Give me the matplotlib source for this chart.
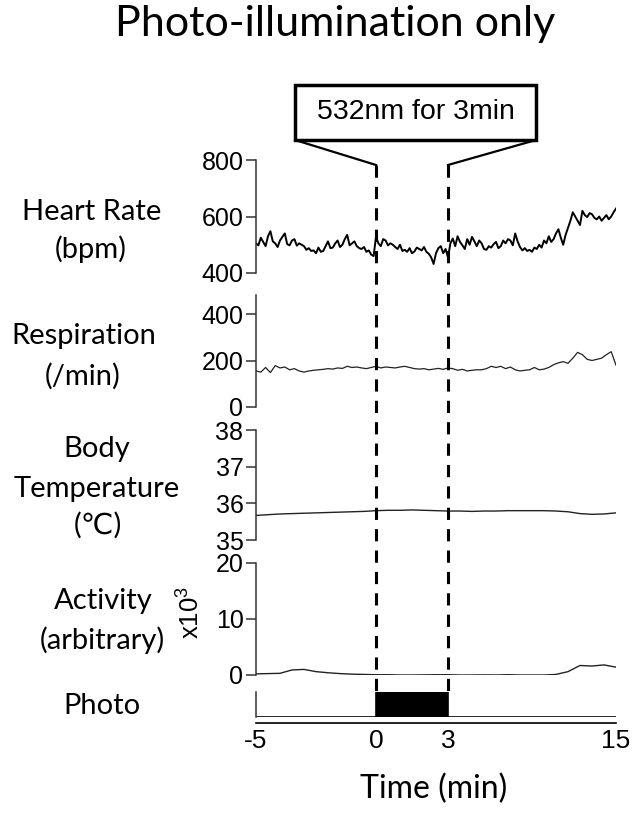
import numpy as np
import matplotlib
matplotlib.use("Agg")
import matplotlib.pyplot as plt
from matplotlib.patches import Rectangle

plt.rcParams['font.family'] = ['Liberation Sans', 'DejaVu Sans']
plt.rcParams['mathtext.default'] = 'regular'

W, H = 633, 815

# ---- data ----
# heart rate, bpm, sampled every 0.1 min from -5 to 10
heart_rate = [505, 498, 525, 510, 495, 530, 548, 512, 505, 492,
              515, 528, 540, 502, 498, 515, 520, 497, 505, 500,
              495, 482, 488, 478, 480, 470, 490, 475, 478, 495,
              512, 488, 490, 505, 515, 492, 500, 520, 535, 498,
              505, 512, 495, 488, 485, 492, 475, 480, 465, 460,
              528, 505, 495, 520, 515, 498, 505, 500, 492, 485,
              500, 478, 482, 475, 488, 470, 476, 490, 485, 480,
              492, 475, 468, 455, 432, 470, 488, 495, 470, 485,
              455, 505, 522, 495, 530, 510, 498, 485, 520, 500,
              528, 512, 495, 515, 505, 485, 482, 495, 490, 502,
              510, 488, 495, 515, 505, 520, 515, 498, 540, 512,
              492, 480, 488, 478, 482, 475, 490, 485, 500, 490,
              515, 505, 530, 510, 520, 540, 555, 525, 500, 535,
              560, 585, 615, 600, 585, 570, 620, 605, 598, 612,
              608, 595, 590, 600, 585, 595, 605, 590, 600, 615,
              628]
# respiration, /min, every 0.2 min
respiration = [155, 150, 170, 148, 178, 168, 172, 160, 165, 155,
               150, 155, 158, 160, 162, 165, 163, 168, 166, 175,
               170, 172, 168, 165, 170, 175, 168, 172, 170, 168,
               172, 175, 170, 165, 163, 165, 160, 163, 166, 162,
               168, 165, 158, 162, 155, 158, 160, 160, 165, 175,
               170, 175, 165, 172, 160, 155, 158, 160, 170, 160,
               163, 170, 182, 190, 195, 188, 210, 235, 225, 205,
               200, 205, 210, 225, 238, 180]
# body temperature, deg C, every 0.5 min
body_temp = [35.67, 35.69, 35.71, 35.72, 35.73, 35.74, 35.75, 35.76, 35.77, 35.78,
             35.80, 35.81, 35.81, 35.82, 35.81, 35.80, 35.79, 35.79, 35.78, 35.79,
             35.79, 35.80, 35.80, 35.80, 35.80, 35.79, 35.77, 35.72, 35.70, 35.71,
             35.74]
# activity, x10^3, every 0.5 min
activity = [0.2, 0.25, 0.3, 0.9, 1.0, 0.6, 0.4, 0.25, 0.15, 0.1,
            0.05, 0.05, 0.0, 0.0, 0.02, 0.05, 0.05, 0.0, 0.0, 0.02,
            0.0, 0.05, 0.0, 0.0, 0.0, 0.1, 0.6, 1.7, 1.6, 1.8,
            1.4]
# photo stimulation (on/off)
photo_t = [-5, 0, 0, 3, 3, 10]
photo_v = [0, 0, 1, 1, 0, 0]
stim_on, stim_off = 0, 3

x_ticks = [-5, 0, 3, 10]
x_ticklabels = ['-5', '0', '3', '15']
t_start, t_end = -5, 10

t_hr = np.linspace(t_start, t_end, len(heart_rate))
t_rr = np.linspace(t_start, t_end, len(respiration))
t_slow = np.linspace(t_start, t_end, len(body_temp))


def fig_rect(top_px, bottom_px, left_px=256, right_px=616):
    return [left_px / W, 1 - bottom_px / H, (right_px - left_px) / W, (bottom_px - top_px) / H]


def fxy(x, y):
    return x / W, 1 - y / H


fig = plt.figure(figsize=(W / 100, H / 100), dpi=100)

spine_col = '#333333'


def style(ax, ylim, yticks):
    ax.set_xlim(t_start, t_end)
    ax.set_ylim(*ylim)
    ax.set_yticks(yticks)
    for s in ['top', 'right', 'bottom']:
        ax.spines[s].set_visible(False)
    ax.spines['left'].set_color(spine_col)
    ax.spines['left'].set_linewidth(1.1)
    ax.tick_params(axis='y', length=7, width=1.1, color=spine_col, pad=2, labelsize=18)
    ax.set_xticks([])
    ax.patch.set_alpha(0)


ax_hr = fig.add_axes(fig_rect(160, 273))
ax_hr.plot(t_hr, heart_rate, color='black', lw=1.4)
style(ax_hr, (400, 800), [400, 600, 800])

ax_rr = fig.add_axes(fig_rect(295.4, 407))
ax_rr.plot(t_rr, respiration, color='#222222', lw=0.9)
style(ax_rr, (0, 480), [0, 200, 400])

ax_bt = fig.add_axes(fig_rect(430, 540))
ax_bt.plot(t_slow, body_temp, color='#222222', lw=1.0)
style(ax_bt, (35, 38), [35, 36, 37, 38])

ax_ac = fig.add_axes(fig_rect(563, 675))
ax_ac.plot(t_slow, activity, color='#222222', lw=1.0)
style(ax_ac, (0, 20), [0, 10, 20])

ax_ph = fig.add_axes(fig_rect(692, 717))
ax_ph.fill_between(photo_t, photo_v, 0, color='black', lw=0)
ax_ph.plot(photo_t, photo_v, color='black', lw=1.2)
ax_ph.set_xlim(t_start, t_end)
ax_ph.set_ylim(0, 1)
ax_ph.set_yticks([])
for s in ['top', 'right']:
    ax_ph.spines[s].set_visible(False)
ax_ph.spines['left'].set_color(spine_col)
ax_ph.spines['left'].set_linewidth(1.1)
ax_ph.spines['bottom'].set_position(('outward', 4.5))
ax_ph.spines['bottom'].set_linewidth(1.2)
ax_ph.set_xticks(x_ticks)
ax_ph.set_xticklabels(x_ticklabels)
ax_ph.tick_params(axis='x', length=0, pad=4, labelsize=19)
ax_ph.patch.set_alpha(0)

# overlay for stimulus markers: x in minutes, y in figure pixels
ov = fig.add_axes(fig_rect(0, H), zorder=10)
ov.set_xlim(t_start, t_end)
ov.set_ylim(H, 0)
ov.axis('off')
ov.vlines([stim_on, stim_off], 165, 692, colors='black', lw=2.2, linestyles=(0, (4, 3)))
box_l, box_r = -3.375, 6.667
ov.add_patch(Rectangle((box_l, 85), box_r - box_l, 55, fill=False, lw=2.5, ec='black'))
ov.plot([box_l, stim_on], [140, 165], color='black', lw=1.6)
ov.plot([box_r, stim_off], [140, 165], color='black', lw=1.6)
ov.text((box_l + box_r) / 2, 112, '532nm for 3min', ha='center', va='center', fontsize=20.5)

# labels
lab = dict(family=['Lato', 'DejaVu Sans'], fontsize=21, ha='center', va='center')
fig.text(*fxy(335, 24), 'Photo-illumination only', family=['Lato', 'DejaVu Sans'],
         fontsize=31, ha='center', va='center')
fig.text(*fxy(92, 212), 'Heart Rate', **lab)
fig.text(*fxy(91, 249), '(bpm)', **lab)
fig.text(*fxy(84, 336), 'Respiration', **lab)
fig.text(*fxy(83, 376), '(/min)', **lab)
fig.text(*fxy(97, 449), 'Body', **lab)
fig.text(*fxy(97, 489), 'Temperature', **lab)
fig.text(*fxy(98, 525), '(\u2103)', **lab)
fig.text(*fxy(103, 601), 'Activity', **lab)
fig.text(*fxy(102, 640), '(arbitrary)', **lab)
fig.text(*fxy(102, 706), 'Photo', **lab)
fig.text(*fxy(191, 612), 'x10$^3$', rotation=90, fontsize=18.5, ha='center', va='center')
fig.text(*fxy(434, 789), 'Time (min)', family=['Lato', 'DejaVu Sans'], fontsize=23,
         ha='center', va='center')

fig.savefig('out.png', dpi=100)
